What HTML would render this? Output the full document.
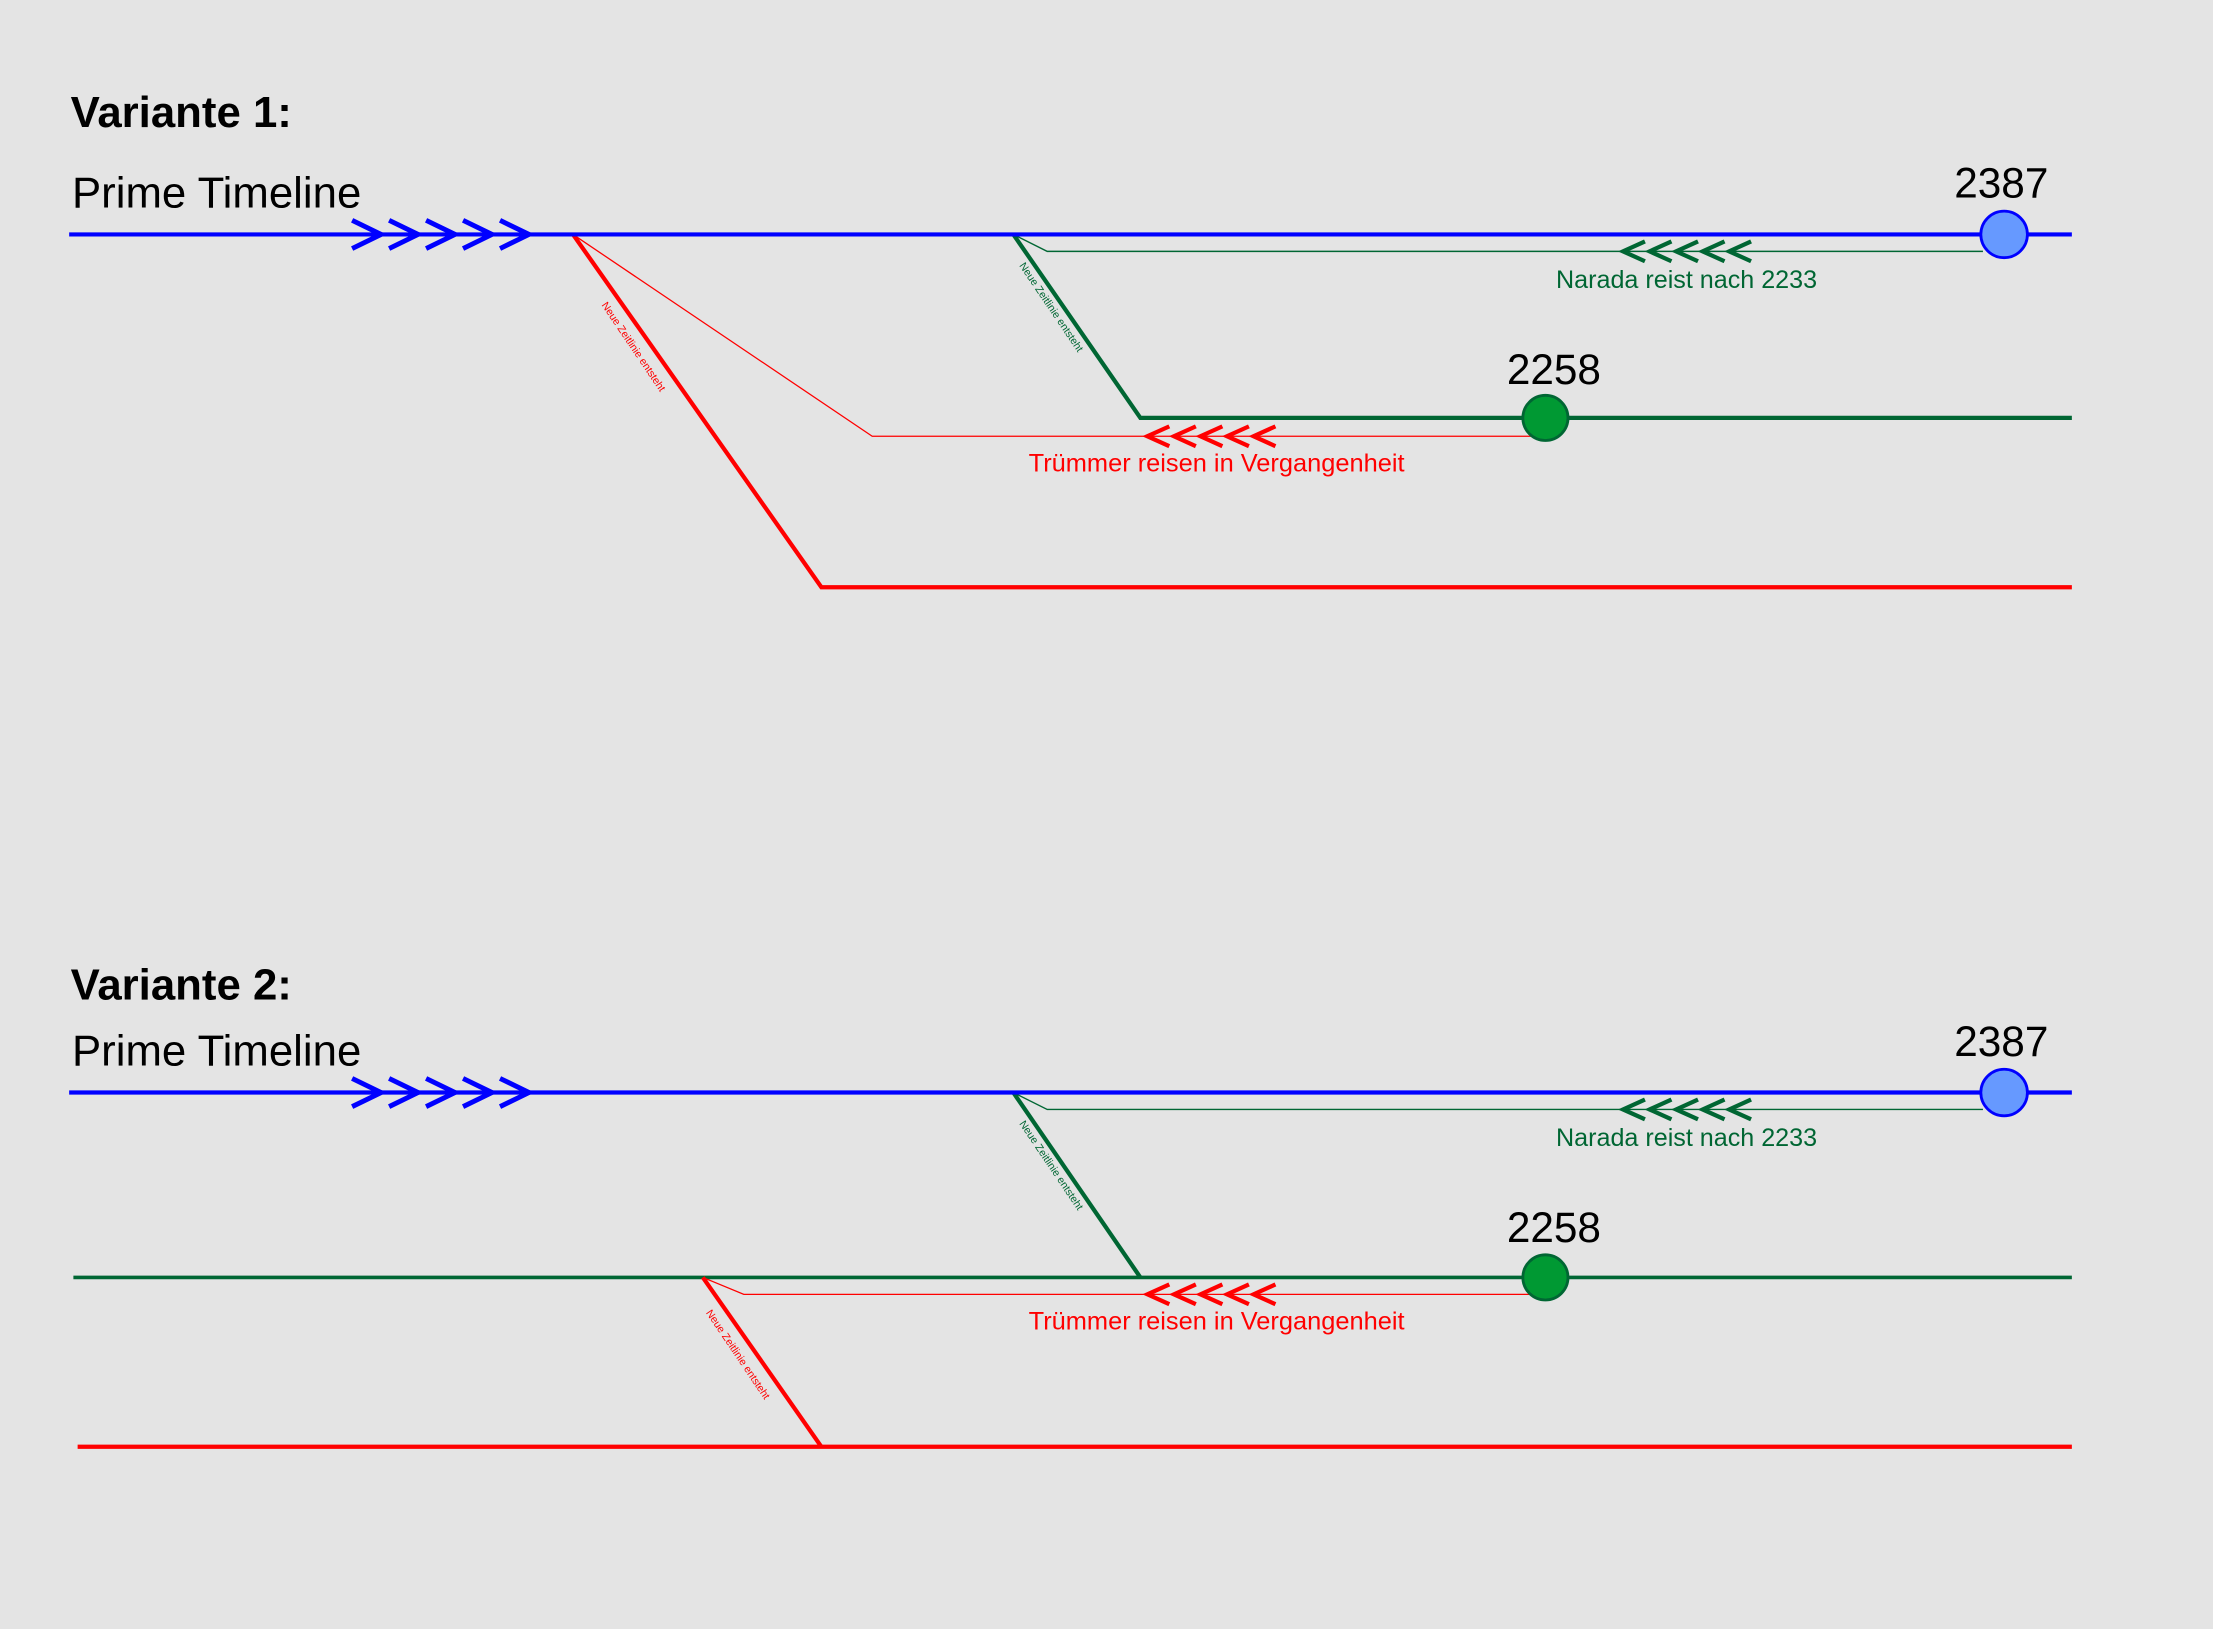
<!DOCTYPE html>
<html><head><meta charset="utf-8"><style>
html,body{margin:0;padding:0;background:#e4e4e4;}
svg{display:block;}
text{font-family:"Liberation Sans",Arial,sans-serif;}
</style></head><body>
<svg width="2213" height="1629" viewBox="0 0 1568 1154" xmlns="http://www.w3.org/2000/svg">
<rect width="1568" height="1154" fill="#e4e4e4"/>
<defs>
<g id="bch"><path d="M249.5,156 L270,166 L249.5,176" fill="none" stroke="#0000ff" stroke-width="3.5"/></g>
<path id="lch" d="M15.5,-7 L0,0 L15.5,7" fill="none" stroke-width="3"/>
</defs>

<!-- ===== Variante 1 ===== -->
<text x="50" y="90" font-size="31" font-weight="bold">Variante 1:</text>
<text x="51" y="147" font-size="31">Prime Timeline</text>

<polyline points="406,166 618,309 1085,309" fill="none" stroke="#ff0000" stroke-width="0.9"/>
<polyline points="406,166 582,416 1468,416" fill="none" stroke="#ff0000" stroke-width="3"/>
<g stroke="#ff0000">
<use href="#lch" x="813" y="309"/><use href="#lch" x="831.8" y="309"/><use href="#lch" x="850.6" y="309"/><use href="#lch" x="869.4" y="309"/><use href="#lch" x="888.2" y="309"/>
</g>
<text x="862" y="334" font-size="18" fill="#ff0000" text-anchor="middle">Trümmer reisen in Vergangenheit</text>
<text transform="translate(426,216) rotate(56)" font-size="7.5" fill="#ff0000">Neue Zeitlinie entsteht</text>

<polyline points="718,166 742,178 1405,178" fill="none" stroke="#006633" stroke-width="1"/>
<polyline points="718,166 808,296 1468,296" fill="none" stroke="#006633" stroke-width="3"/>
<g stroke="#006633">
<use href="#lch" x="1150" y="178"/><use href="#lch" x="1168.8" y="178"/><use href="#lch" x="1187.6" y="178"/><use href="#lch" x="1206.4" y="178"/><use href="#lch" x="1225.2" y="178"/>
</g>
<text x="1195" y="204" font-size="17.8" fill="#006633" text-anchor="middle">Narada reist nach 2233</text>
<text transform="translate(722,188) rotate(56)" font-size="7.5" fill="#006633">Neue Zeitlinie entsteht</text>
<circle cx="1095" cy="296" r="16" fill="#009933" stroke="#006633" stroke-width="2"/>
<text x="1101" y="272" font-size="30" text-anchor="middle">2258</text>

<line x1="49" y1="166" x2="1468" y2="166" stroke="#0000ff" stroke-width="3"/>
<use href="#bch"/><use href="#bch" x="26.2"/><use href="#bch" x="52.4"/><use href="#bch" x="78.6"/><use href="#bch" x="104.8"/>
<circle cx="1420" cy="166" r="16.5" fill="#6699ff" stroke="#0000ff" stroke-width="2"/>
<text x="1418" y="140" font-size="30" text-anchor="middle">2387</text>

<!-- ===== Variante 2 ===== -->
<text x="50" y="708" font-size="31" font-weight="bold">Variante 2:</text>
<text x="51" y="755" font-size="31">Prime Timeline</text>

<line x1="52" y1="905" x2="1468" y2="905" stroke="#006633" stroke-width="2.5"/>
<line x1="55" y1="1025" x2="1468" y2="1025" stroke="#ff0000" stroke-width="3"/>
<polyline points="498,905 527,917 1085,917" fill="none" stroke="#ff0000" stroke-width="0.9"/>
<line x1="498" y1="905" x2="582" y2="1025" stroke="#ff0000" stroke-width="3"/>
<g stroke="#ff0000">
<use href="#lch" x="813" y="917"/><use href="#lch" x="831.8" y="917"/><use href="#lch" x="850.6" y="917"/><use href="#lch" x="869.4" y="917"/><use href="#lch" x="888.2" y="917"/>
</g>
<text x="862" y="942" font-size="18" fill="#ff0000" text-anchor="middle">Trümmer reisen in Vergangenheit</text>
<text transform="translate(500,930) rotate(56)" font-size="7.5" fill="#ff0000">Neue Zeitlinie entsteht</text>

<polyline points="718,774 742,786 1405,786" fill="none" stroke="#006633" stroke-width="1"/>
<line x1="718" y1="774" x2="808" y2="905" stroke="#006633" stroke-width="3"/>
<g stroke="#006633">
<use href="#lch" x="1150" y="786"/><use href="#lch" x="1168.8" y="786"/><use href="#lch" x="1187.6" y="786"/><use href="#lch" x="1206.4" y="786"/><use href="#lch" x="1225.2" y="786"/>
</g>
<text x="1195" y="812" font-size="17.8" fill="#006633" text-anchor="middle">Narada reist nach 2233</text>
<text transform="translate(722,796) rotate(56)" font-size="7.5" fill="#006633">Neue Zeitlinie entsteht</text>
<circle cx="1095" cy="905" r="16" fill="#009933" stroke="#006633" stroke-width="2"/>
<text x="1101" y="880" font-size="30" text-anchor="middle">2258</text>

<line x1="49" y1="774" x2="1468" y2="774" stroke="#0000ff" stroke-width="3"/>
<g transform="translate(0,608)">
<use href="#bch"/><use href="#bch" x="26.2"/><use href="#bch" x="52.4"/><use href="#bch" x="78.6"/><use href="#bch" x="104.8"/>
</g>
<circle cx="1420" cy="774" r="16.5" fill="#6699ff" stroke="#0000ff" stroke-width="2"/>
<text x="1418" y="748" font-size="30" text-anchor="middle">2387</text>
</svg>
</body></html>
